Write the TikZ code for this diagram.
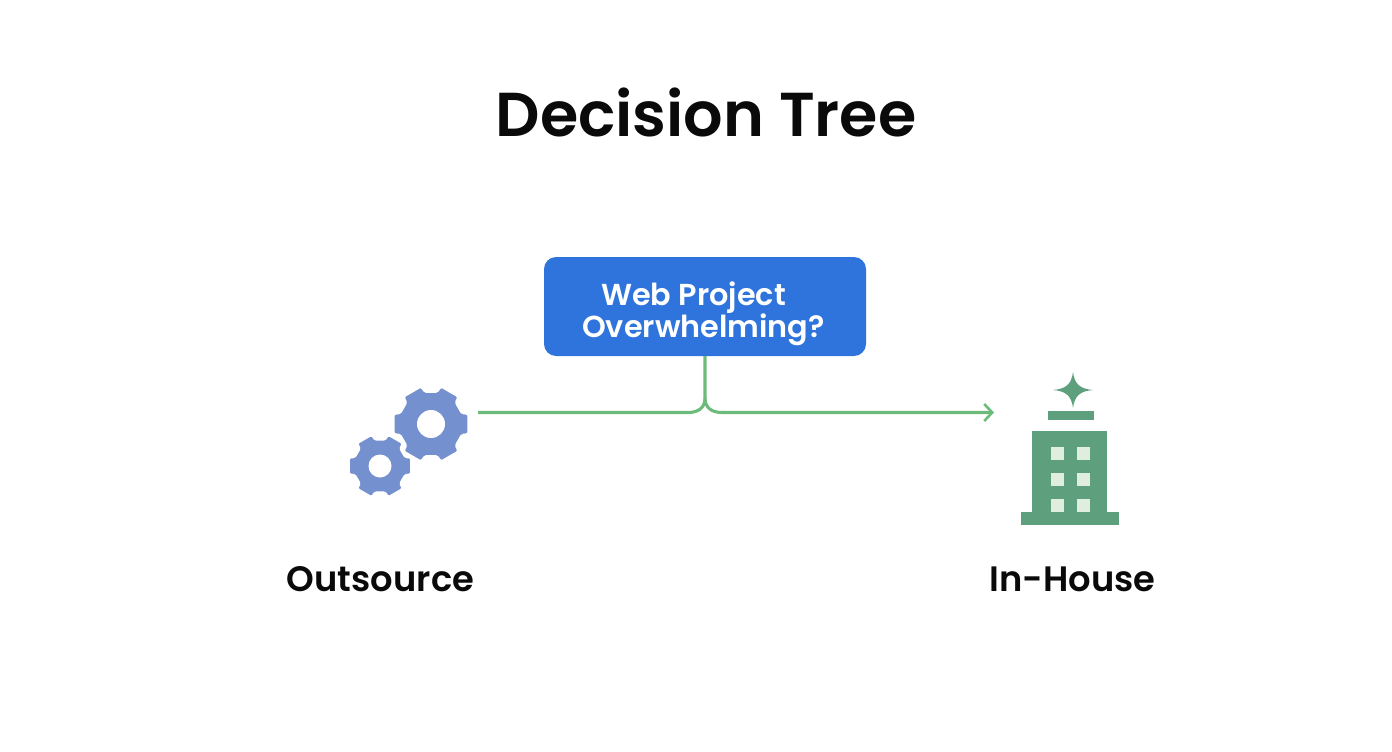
\documentclass[tikz,border=0pt]{standalone}
\usepackage{fontspec}
\setmainfont{Poppins}[BoldFont={Poppins SemiBold}]
\usetikzlibrary{arrows.meta}
\definecolor{titleink}{HTML}{0A0A0A}
\definecolor{boxblue}{HTML}{2F74DC}
\definecolor{linkgreen}{HTML}{6CBB7A}
\definecolor{gearblue}{HTML}{7590CF}
\definecolor{towergreen}{HTML}{5E9F7E}
\definecolor{windowpale}{HTML}{E0EEDF}
\tikzset{
  titletext/.style={font=\bfseries\fontsize{62}{70}\selectfont,text=titleink,inner sep=0pt,anchor=base},
  labeltext/.style={font=\bfseries\fontsize{35.3}{40}\selectfont,text=titleink,inner sep=0pt,anchor=base},
  questionbox/.style={fill=boxblue,rounded corners=12pt,minimum width=322pt,minimum height=99pt,inner sep=0pt},
  questiontext/.style={inner sep=0pt,text=white,align=center,font=\bfseries\fontsize{30.3}{32}\selectfont},
  linkline/.style={draw=linkgreen,line width=3.1pt},
  towerpart/.style={fill=towergreen},
  windowpane/.style={fill=windowpale},
}
\newcommand{\geariconpath}[4]{% x, y, outer, root
  \begin{scope}[shift={(#1,#2)},y=1pt,x=1pt]
    \path[fill=gearblue,draw=white,line width=1.5pt,rounded corners=1.5pt]
      (-15:#3)
      \foreach \a in {0,60,...,300}{
        -- (\a+15:#3) -- (\a+19:#4) -- (\a+41:#4) -- (\a+45:#3)
      } -- cycle;
  \end{scope}}
\begin{document}
\begin{tikzpicture}[x=1pt,y=-1pt]
\useasboundingbox (0,0) rectangle (1392,752);
\node[titletext] (title) at (706,136) {Decision Tree};
\node[questionbox] (question) at (705,306.5) {};
\node[questiontext] (questionlabel) at (703.5,313.5) {Web Project\hspace*{20pt}\\Overwhelming?};
% connector
\coordinate (leftend) at (478,412.5);
\coordinate (rightend) at (994,412.5);
\draw[linkline] (question.south) -- (705,398) .. controls (705,408) and (698,412.5) .. (688,412.5) -- (leftend);
\draw[linkline,-{Straight Barb[length=8pt,width=17pt,line width=2.6pt]}] (705,398) .. controls (705,408) and (712,412.5) .. (722,412.5) -- (rightend);
% gears
\geariconpath{380}{466}{32}{26.5}
\fill[white] (380,466) circle (11.5);
\geariconpath{431}{424}{38.5}{32.5}
\fill[white] (431,424) circle (14);
% tower
\fill[towerpart] (1073,372) .. controls (1074.5,384) and (1080,389) .. (1093,390) .. controls (1080,391) and (1074.5,396) .. (1073,408) .. controls (1071.5,396) and (1066,391) .. (1053,390) .. controls (1066,389) and (1071.5,384) .. (1073,372) -- cycle;
\fill[towerpart] (1048,411) rectangle (1094,420);
\fill[towerpart] (1032,431) rectangle (1107,513);
\fill[towerpart] (1021,512) rectangle (1119,525);
\foreach \wy in {447,473,499}{
  \foreach \wx in {1051,1077}{
    \fill[windowpane] (\wx,\wy) rectangle ++(13,13);
  }
}
\node[labeltext] (outsource) at (380.5,591) {Outsource};
\node[labeltext] (inhouse) at (1072.5,591) {In-House};
\end{tikzpicture}
\end{document}
